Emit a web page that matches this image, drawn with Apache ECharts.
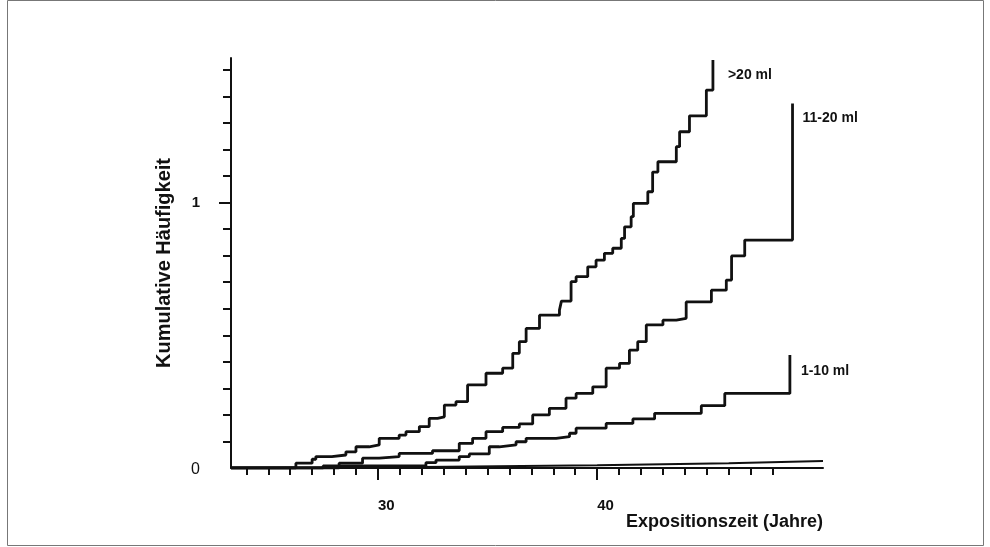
<!DOCTYPE html>
<html>
<head>
<meta charset="utf-8">
<script src="https://cdn.jsdelivr.net/npm/echarts@6/dist/echarts.min.js"></script>
<style>
    html, body { margin: 0; padding: 0; background: #fff; }
    #chart { width: 990px; height: 547px; }
</style>
</head>
<body>
<div id="chart"></div>
<script>
const FONT = '"Liberation Sans", Arial, sans-serif';
const INK = '#111';

// axis ticks / labels
const yearTicks = [24, 25, 26, 27, 28, 29, 30, 31, 32, 33, 34, 35, 36, 37, 38, 39, 40, 41, 42, 43, 44, 45, 46, 47, 48];
const yearLabels = [30, 40];
const freqTicks = [0.1, 0.2, 0.3, 0.4, 0.5, 0.6, 0.7, 0.8, 0.9, 1.0, 1.1, 1.2, 1.3, 1.4, 1.5];
const freqLabels = [0, 1];

// > 20 ml
const gt20Years = [23.3, 26.26, 27.0, 27.17, 27.9, 28.54, 29.0, 29.6, 30.06, 30.97, 31.28, 31.89, 32.34, 32.72, 33.03, 33.56, 34.09, 34.93, 35.69, 36.15, 36.45, 36.76, 37.37, 38.28, 38.37, 38.81, 39.04, 39.57, 39.95, 40.33, 40.71, 41.1, 41.25, 41.55, 41.65, 42.31, 42.53, 42.77, 43.61, 43.76, 44.21, 44.98, 45.28];
const gt20Freq = [0, 0.018, 0.033, 0.043, 0.049, 0.061, 0.08, 0.087, 0.112, 0.124, 0.137, 0.156, 0.187, 0.193, 0.237, 0.25, 0.313, 0.357, 0.376, 0.432, 0.476, 0.526, 0.576, 0.595, 0.629, 0.702, 0.721, 0.758, 0.783, 0.809, 0.828, 0.865, 0.909, 0.947, 0.997, 1.041, 1.115, 1.154, 1.211, 1.267, 1.327, 1.424, 1.537];

// 11-20 ml
const mid20Years = [23.3, 27.32, 28.23, 29.3, 30.06, 30.97, 32.49, 33.71, 34.32, 34.93, 35.69, 36.45, 37.06, 37.82, 38.58, 39.04, 39.8, 40.41, 41.02, 41.47, 41.85, 42.24, 43.0, 43.61, 44.06, 45.21, 45.89, 46.13, 46.73, 48.91];
const mid20Freq = [0, 0, 0.018, 0.037, 0.043, 0.055, 0.065, 0.093, 0.112, 0.137, 0.153, 0.166, 0.2, 0.225, 0.263, 0.281, 0.306, 0.376, 0.394, 0.444, 0.476, 0.539, 0.557, 0.564, 0.626, 0.67, 0.708, 0.799, 0.859, 1.374];

// 1-10 ml
const low10Years = [23.3, 27.5, 32.19, 32.65, 33.71, 34.17, 35.08, 35.54, 36.3, 36.76, 38.13, 38.74, 39.04, 40.41, 41.63, 42.62, 44.75, 45.82, 48.79];
const low10Freq = [0, 0.008, 0.02, 0.03, 0.043, 0.053, 0.08, 0.087, 0.099, 0.112, 0.118, 0.131, 0.15, 0.168, 0.185, 0.206, 0.235, 0.281, 0.426];

// flat curve along the axis
const baseYears = [23.3, 32, 40, 46, 50.3];
const baseFreq = [0, 0.004, 0.01, 0.018, 0.026];

const pairs = (xs, ys) => xs.map((x, i) => [x, ys[i]]);

const stepSeries = (name, xs, ys, offset) => ({
    name: name,
    type: 'line',
    step: 'end',
    showSymbol: false,
    silent: true,
    lineStyle: { color: INK, width: 2.8 },
    endLabel: {
        show: true,
        formatter: name,
        offset: offset,
        color: INK,
        fontFamily: FONT,
        fontWeight: 'bold',
        fontSize: 14
    },
    data: pairs(xs, ys)
});

const chart = echarts.init(document.getElementById('chart'));

const xCommon = {
    type: 'value',
    min: 23.3,
    max: 50.3,
    position: 'bottom',
    splitLine: { show: false }
};
const yCommon = {
    type: 'value',
    min: 0,
    max: 1.545,
    position: 'left',
    splitLine: { show: false }
};

chart.setOption({
    animation: false,
    backgroundColor: '#fff',
    // thin frame of the scanned figure
    graphic: [
        {
            type: 'rect',
            silent: true,
            shape: { x: 7.5, y: 0.5, width: 976, height: 545 },
            style: { fill: 'none', stroke: '#777', lineWidth: 1 }
        }
    ],
    grid: { left: 231, right: 167, top: 58, bottom: 79 },
    xAxis: [
        {
            ...xCommon,
            axisLine: { show: true, onZero: false, lineStyle: { color: INK, width: 2 } },
            axisTick: { show: true, length: 7, lineStyle: { color: INK, width: 2 }, customValues: yearTicks },
            axisLabel: { show: false },
            name: 'Expositionszeit (Jahre)',
            nameLocation: 'end',
            nameGap: 0,
            nameTextStyle: {
                color: INK, fontFamily: FONT, fontWeight: 'bold', fontSize: 18,
                align: 'right', verticalAlign: 'top', padding: [45, 0, 0, 0]
            }
        },
        {
            ...xCommon,
            axisLine: { show: false },
            axisTick: { show: true, length: 12, lineStyle: { color: INK, width: 2 }, customValues: yearLabels },
            axisLabel: {
                show: true, customValues: yearLabels, margin: 30, align: 'left',
                color: INK, fontFamily: FONT, fontWeight: 'bold', fontSize: 15
            }
        }
    ],
    yAxis: [
        {
            ...yCommon,
            axisLine: { show: true, onZero: false, lineStyle: { color: INK, width: 2 } },
            axisTick: { show: true, length: 8, lineStyle: { color: INK, width: 2 }, customValues: freqTicks },
            axisLabel: { show: false },
            name: 'Kumulative Häufigkeit',
            nameLocation: 'middle',
            nameRotate: 90,
            nameGap: 57,
            nameTextStyle: { color: INK, fontFamily: FONT, fontWeight: 'bold', fontSize: 20 }
        },
        {
            ...yCommon,
            axisLine: { show: false },
            axisTick: { show: true, length: 12, lineStyle: { color: INK, width: 2 }, customValues: [1] },
            axisLabel: {
                show: true, customValues: freqLabels, margin: 31,
                formatter: (v) => (v === 0 ? '{n|0}' : '{b|' + v + '}'),
                rich: {
                    n: { color: INK, fontFamily: FONT, fontSize: 16, padding: [4, 0, 0, 0] },
                    b: { color: INK, fontFamily: FONT, fontWeight: 'bold', fontSize: 15 }
                }
            }
        }
    ],
    series: [
        stepSeries('>20 ml', gt20Years, gt20Freq, [7, 15]),
        stepSeries('11-20 ml', mid20Years, mid20Freq, [2, 15]),
        stepSeries('1-10 ml', low10Years, low10Freq, [3, 16]),
        {
            name: 'base',
            type: 'line',
            showSymbol: false,
            silent: true,
            lineStyle: { color: INK, width: 2 },
            data: pairs(baseYears, baseFreq)
        }
    ]
});
</script>
</body>
</html>
